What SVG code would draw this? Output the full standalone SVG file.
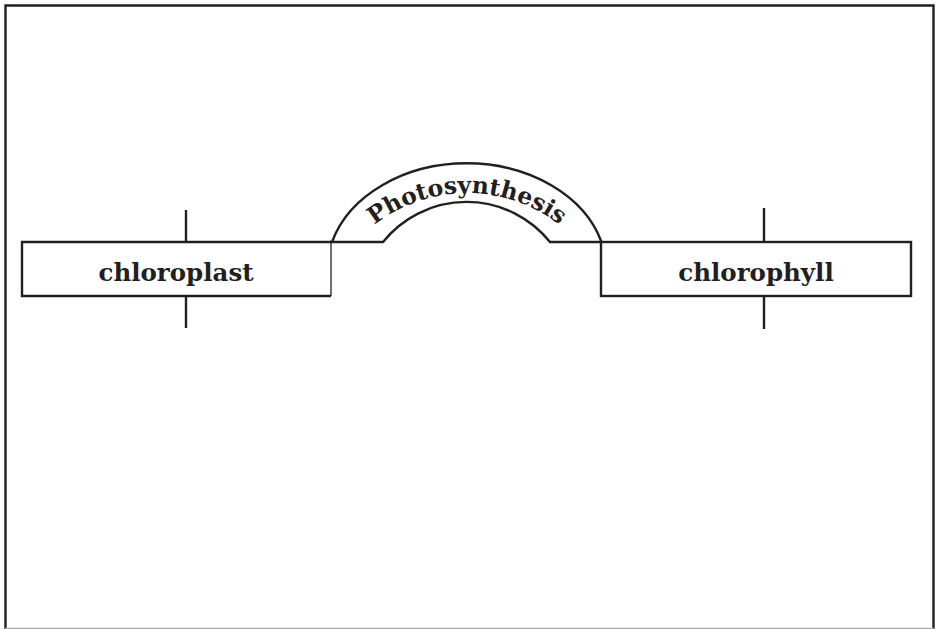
<svg xmlns="http://www.w3.org/2000/svg" width="936" height="629" viewBox="0 0 936 629">
<style>
.ln{fill:none;stroke:#231f20;stroke-width:2.4}
.thin{fill:none;stroke:#231f20;stroke-width:1.3}
.lbl{font-family:"DejaVu Serif",serif;font-weight:bold;fill:#231f20;text-anchor:middle}
</style>
<defs>
<path id="arcText" d="M 344.1 257 A 150 150 0 0 1 589.9 257"/>
</defs>
<rect width="936" height="629" fill="#fff"/>
<g id="frame">
<path class="ln" d="M5.5 629 V5.5 H933.5 V629"/>
<line x1="5" y1="628.5" x2="934" y2="628.5" stroke="#aaaaaa" stroke-width="1.5"/>
</g>
<g id="connectors">
<line class="ln" x1="186" y1="210" x2="186" y2="242"/>
<line class="ln" x1="186" y1="296" x2="186" y2="328"/>
<line class="ln" x1="764" y1="208" x2="764" y2="242"/>
<line class="ln" x1="764" y1="296" x2="764" y2="329"/>
</g>
<g id="photosynthesis">
<path class="ln" d="M 332 242 A 140 108 0 0 1 601.5 242"/>
<path class="ln" d="M 330 242 H 383 A 107 107 0 0 1 550 242 H 602"/>
<text class="lbl" font-size="23.5"><textPath href="#arcText" startOffset="50%">Photosynthesis</textPath></text>
</g>
<g id="chloroplast">
<path class="ln" d="M 331 296 H 22 V 242 H 331"/>
<line class="thin" x1="331" y1="242" x2="331" y2="296"/>
<text class="lbl" x="176" y="281" font-size="24.5">chloroplast</text>
</g>
<g id="chlorophyll">
<rect class="ln" x="601" y="242" width="310" height="54"/>
<text class="lbl" x="756" y="281" font-size="24.5">chlorophyll</text>
</g>
</svg>
